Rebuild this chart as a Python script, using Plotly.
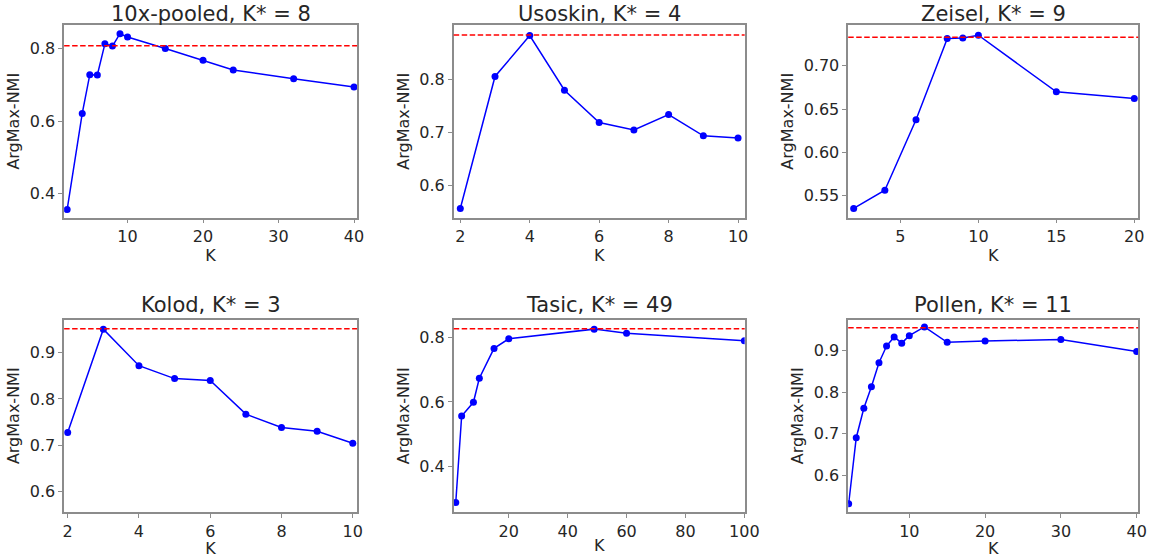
import plotly.graph_objects as go

# ---- data ----
titles = ["10x-pooled, K* = 8", "Usoskin, K* = 4", "Zeisel, K* = 9",
          "Kolod, K* = 3", "Tasic, K* = 49", "Pollen, K* = 11"]

k_10x = [2, 4, 5, 6, 7, 8, 9, 10, 15, 20, 24, 32, 40]
nmi_10x = [0.356, 0.621, 0.728, 0.727, 0.813, 0.807, 0.841, 0.832, 0.800, 0.768, 0.741, 0.717, 0.694]
ref_10x = 0.808

k_uso = [2, 3, 4, 5, 6, 7, 8, 9, 10]
nmi_uso = [0.556, 0.805, 0.882, 0.779, 0.718, 0.704, 0.733, 0.693, 0.689]
ref_uso = 0.883

k_zei = [2, 4, 6, 8, 9, 10, 15, 20]
nmi_zei = [0.5355, 0.5565, 0.6377, 0.7313, 0.732, 0.7352, 0.6699, 0.6622]
ref_zei = 0.733

k_kol = [2, 3, 4, 5, 6, 7, 8, 9, 10]
nmi_kol = [0.727, 0.951, 0.872, 0.844, 0.840, 0.767, 0.738, 0.730, 0.704]
ref_kol = 0.952

k_tas = [2, 4, 8, 10, 15, 20, 49, 60, 100]
nmi_tas = [0.2865, 0.556, 0.599, 0.674, 0.767, 0.797, 0.827, 0.814, 0.791]
ref_tas = 0.828

k_pol = [2, 3, 4, 5, 6, 7, 8, 9, 10, 12, 15, 20, 30, 40]
nmi_pol = [0.531, 0.690, 0.761, 0.813, 0.871, 0.911, 0.933, 0.918, 0.936, 0.957, 0.920, 0.923, 0.927, 0.898]
ref_pol = 0.955

series = [(k_10x, nmi_10x, ref_10x), (k_uso, nmi_uso, ref_uso), (k_zei, nmi_zei, ref_zei),
          (k_kol, nmi_kol, ref_kol), (k_tas, nmi_tas, ref_tas), (k_pol, nmi_pol, ref_pol)]

x_ranges = [[1.6, 40.4], [1.81, 10.19], [1.65, 20.25], [1.9, 10.12], [1.3, 100.1], [1.94, 40.2]]
y_ranges = [[0.334, 0.865], [0.539, 0.902], [0.525, 0.747], [0.555, 0.972], [0.257, 0.857], [0.511, 0.975]]
x_ticks = [[10, 20, 30, 40], [2, 4, 6, 8, 10], [5, 10, 15, 20], [2, 4, 6, 8, 10], [20, 40, 60, 80, 100], [10, 20, 30, 40]]
y_ticks = [[0.4, 0.6, 0.8], [0.6, 0.7, 0.8], [0.55, 0.60, 0.65, 0.70], [0.6, 0.7, 0.8, 0.9], [0.4, 0.6, 0.8], [0.6, 0.7, 0.8, 0.9]]
y_fmt = [".1f", ".1f", ".2f", ".1f", ".1f", ".1f"]

# ---- layout geometry ----
W, H = 1166, 558
col_px = [(64, 361), (459, 754), (859, 1153)]
row_px = [(25, 217.5), (319.5, 512)]
title_y_px = [14, 305]

FONT = "DejaVu Sans"
TXT = "#262626"
AX = "#8c8c8c"

fig = go.Figure()
annotations = []
shapes = []
layout = {}

for i, (xs, ys, ref) in enumerate(series):
    r, c = divmod(i, 3)
    n = i + 1
    xa = "x" if n == 1 else f"x{n}"
    ya = "y" if n == 1 else f"y{n}"
    xkey = "xaxis" if n == 1 else f"xaxis{n}"
    ykey = "yaxis" if n == 1 else f"yaxis{n}"
    x0, x1 = col_px[c]
    ytop, ybot = row_px[r]
    fig.add_trace(go.Scatter(
        x=xs, y=ys, xaxis=xa, yaxis=ya, mode="lines+markers",
        line=dict(color="#0000ff", width=1.5),
        marker=dict(color="#0000ff", size=7),
        showlegend=False, cliponaxis=True))
    shapes.append(dict(type="line", xref=f"{xa} domain", yref=ya,
                       x0=0, x1=1, y0=ref, y1=ref,
                       line=dict(color="#ff0000", width=1.5, dash="5.5px,2.5px")))
    layout[xkey] = dict(
        domain=[x0 / W, x1 / W], anchor=ya, range=x_ranges[i],
        tickvals=x_ticks[i], ticks="outside", ticklen=4, tickcolor=AX, tickwidth=1,
        showline=True, linecolor=AX, linewidth=1.5, mirror=True,
        showgrid=False, zeroline=False,
        tickfont=dict(family=FONT, size=16, color=TXT),
        title=dict(text="K", font=dict(family=FONT, size=16, color=TXT), standoff=0))
    layout[ykey] = dict(
        domain=[1 - ybot / H, 1 - ytop / H], anchor=xa, range=y_ranges[i],
        tickvals=y_ticks[i], tickformat=y_fmt[i], ticks="outside", ticklen=4,
        tickcolor=AX, tickwidth=1,
        showline=True, linecolor=AX, linewidth=1.5, mirror=True,
        showgrid=False, zeroline=False,
        tickfont=dict(family=FONT, size=16, color=TXT),
        title=dict(text="ArgMax-NMI", font=dict(family=FONT, size=16, color=TXT), standoff=6))
    annotations.append(dict(
        text=titles[i], xref="paper", yref="paper",
        x=(x0 + x1) / 2 / W, y=1 - title_y_px[r] / H,
        xanchor="center", yanchor="middle", showarrow=False,
        font=dict(family=FONT, size=21, color=TXT)))

fig.update_layout(
    width=W, height=H, margin=dict(l=0, r=0, t=0, b=0),
    paper_bgcolor="white", plot_bgcolor="white",
    annotations=annotations, shapes=shapes, **layout)

fig.write_html("out.html")
